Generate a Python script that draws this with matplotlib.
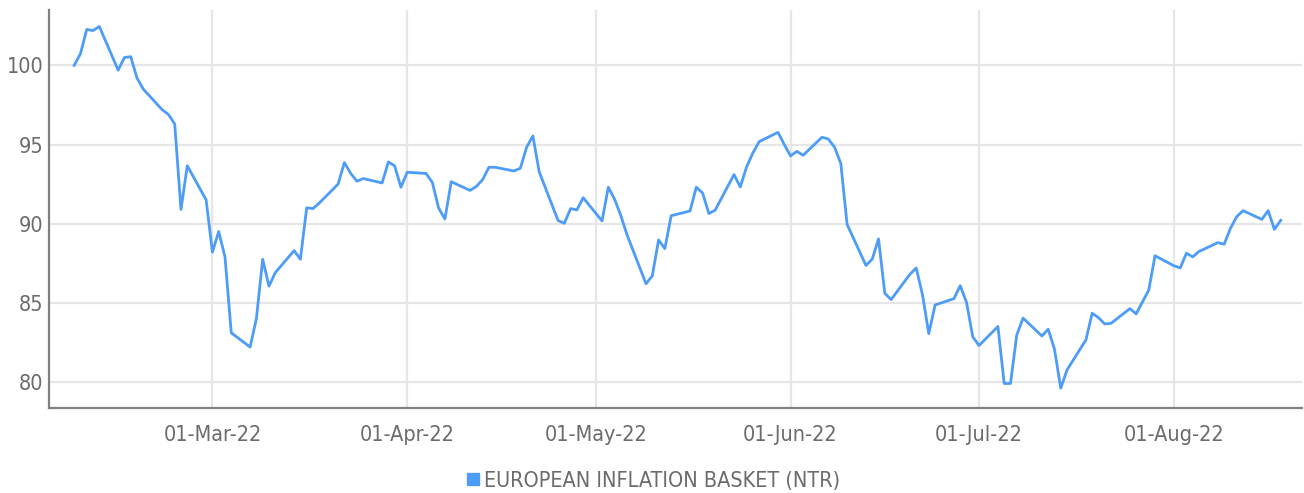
import matplotlib
matplotlib.use("Agg")
import matplotlib.pyplot as plt
import matplotlib.dates as mdates
from matplotlib.lines import Line2D
from matplotlib import font_manager
import pandas as pd

# values (business days, index rebased to 100)
dates = [
    "2022-02-07", "2022-02-08", "2022-02-09", "2022-02-10", "2022-02-11",
    "2022-02-14", "2022-02-15", "2022-02-16", "2022-02-17", "2022-02-18",
    "2022-02-21", "2022-02-22", "2022-02-23", "2022-02-24", "2022-02-25",
    "2022-02-28", "2022-03-01", "2022-03-02", "2022-03-03", "2022-03-04",
    "2022-03-07", "2022-03-08", "2022-03-09", "2022-03-10", "2022-03-11",
    "2022-03-14", "2022-03-15", "2022-03-16", "2022-03-17", "2022-03-18",
    "2022-03-21", "2022-03-22", "2022-03-23", "2022-03-24", "2022-03-25",
    "2022-03-28", "2022-03-29", "2022-03-30", "2022-03-31", "2022-04-01",
    "2022-04-04", "2022-04-05", "2022-04-06", "2022-04-07", "2022-04-08",
    "2022-04-11", "2022-04-12", "2022-04-13", "2022-04-14", "2022-04-15",
    "2022-04-18", "2022-04-19", "2022-04-20", "2022-04-21", "2022-04-22",
    "2022-04-25", "2022-04-26", "2022-04-27", "2022-04-28", "2022-04-29",
    "2022-05-02", "2022-05-03", "2022-05-04", "2022-05-05", "2022-05-06",
    "2022-05-09", "2022-05-10", "2022-05-11", "2022-05-12", "2022-05-13",
    "2022-05-16", "2022-05-17", "2022-05-18", "2022-05-19", "2022-05-20",
    "2022-05-23", "2022-05-24", "2022-05-25", "2022-05-26", "2022-05-27",
    "2022-05-30", "2022-05-31", "2022-06-01", "2022-06-02", "2022-06-03",
    "2022-06-06", "2022-06-07", "2022-06-08", "2022-06-09", "2022-06-10",
    "2022-06-13", "2022-06-14", "2022-06-15", "2022-06-16", "2022-06-17",
    "2022-06-20", "2022-06-21", "2022-06-22", "2022-06-23", "2022-06-24",
    "2022-06-27", "2022-06-28", "2022-06-29", "2022-06-30", "2022-07-01",
    "2022-07-04", "2022-07-05", "2022-07-06", "2022-07-07", "2022-07-08",
    "2022-07-11", "2022-07-12", "2022-07-13", "2022-07-14", "2022-07-15",
    "2022-07-18", "2022-07-19", "2022-07-20", "2022-07-21", "2022-07-22",
    "2022-07-25", "2022-07-26", "2022-07-27", "2022-07-28", "2022-07-29",
    "2022-08-01", "2022-08-02", "2022-08-03", "2022-08-04", "2022-08-05",
    "2022-08-08", "2022-08-09", "2022-08-10", "2022-08-11", "2022-08-12",
    "2022-08-15", "2022-08-16", "2022-08-17", "2022-08-18",
]
values = [
    100.0, 100.74, 102.27, 102.2, 102.46,
    99.7, 100.5, 100.55, 99.2, 98.5,
    97.2, 96.9, 96.3, 90.9, 93.66,
    91.5, 88.2, 89.5, 87.9, 83.1,
    82.2, 84.0, 87.75, 86.05, 86.9,
    88.3, 87.75, 91.0, 90.95, 91.3,
    92.5, 93.86, 93.18, 92.68, 92.85,
    92.57, 93.9, 93.65, 92.3, 93.25,
    93.17, 92.6, 90.98, 90.3, 92.65,
    92.1, 92.35, 92.78, 93.56, 93.56,
    93.33, 93.5, 94.83, 95.54, 93.28,
    90.2, 90.02, 90.95, 90.87, 91.64,
    90.17, 92.3, 91.54, 90.5, 89.27,
    86.2, 86.7, 88.97, 88.42, 90.5,
    90.8, 92.3, 91.94, 90.64, 90.85,
    93.1, 92.32, 93.58, 94.46, 95.18,
    95.77, 95.0, 94.28, 94.57, 94.32,
    95.46, 95.35, 94.83, 93.8, 89.95,
    87.36, 87.76, 89.04, 85.6, 85.2,
    86.8, 87.2, 85.5, 83.05, 84.86,
    85.26, 86.08, 85.03, 82.84, 82.3,
    83.5, 79.9, 79.9, 82.97, 84.03,
    82.9, 83.33, 82.07, 79.6, 80.76,
    82.65, 84.34, 84.06, 83.66, 83.7,
    84.63, 84.3, 85.05, 85.8, 87.97,
    87.34, 87.2, 88.13, 87.9, 88.24,
    88.8, 88.7, 89.7, 90.44, 90.82,
    90.27, 90.82, 89.64, 90.21,
]
series_name = "EUROPEAN INFLATION BASKET (NTR)"
month_ticks = ["2022-03-01", "2022-04-01", "2022-05-01", "2022-06-01", "2022-07-01", "2022-08-01"]
y_ticks = [80, 85, 90, 95, 100]

# a narrow, light face is closest to the reference's condensed font
names = {f.name for f in font_manager.fontManager.ttflist}
if "DejaVu Sans Condensed" in names or any(
        f.name == "DejaVu Sans" and f.stretch == "condensed" for f in font_manager.fontManager.ttflist):
    plt.rcParams['font.family'] = ['DejaVu Sans']
    plt.rcParams['font.stretch'] = 'condensed'
else:
    plt.rcParams['font.family'] = ['Roboto', 'DejaVu Sans']
    plt.rcParams['font.weight'] = 'light'

line_color = "#4d9cf7"
text_color = "#6b6b6b"
grid_color = "#e6e6e6"

x = pd.to_datetime(dates)

fig = plt.figure(figsize=(13.04, 4.93), dpi=100)
ax = fig.add_axes([0.0376, 0.1724, 0.961, 0.8073])

ax.plot(x, values, color=line_color, linewidth=2.0, zorder=3)

ax.set_xlim(pd.Timestamp("2022-02-03"), pd.Timestamp("2022-08-21 10:00"))
ax.set_ylim(78.35, 103.5)
ax.set_xticks(pd.to_datetime(month_ticks))
ax.xaxis.set_major_formatter(mdates.DateFormatter("%d-%b-%y"))
ax.set_yticks(y_ticks)

ax.grid(True, color=grid_color, linewidth=1.6, zorder=0)
ax.set_axisbelow(True)
for side in ["top", "right"]:
    ax.spines[side].set_visible(False)
for side in ["left", "bottom"]:
    ax.spines[side].set_color("#808080")
    ax.spines[side].set_linewidth(1.6)

ax.tick_params(axis="both", length=0, labelsize=15.5, labelcolor=text_color)
ax.tick_params(axis="x", pad=12)
ax.tick_params(axis="y", pad=4)

handle = Line2D([], [], color=line_color, marker="s", linestyle="none", markersize=8)
fig.legend([handle], [series_name], loc="center", bbox_to_anchor=(0.5, 0.025),
           frameon=False, fontsize=15.5, labelcolor=text_color,
           handletextpad=0.1, handlelength=0.8)

fig.savefig("out.png", dpi=100)
